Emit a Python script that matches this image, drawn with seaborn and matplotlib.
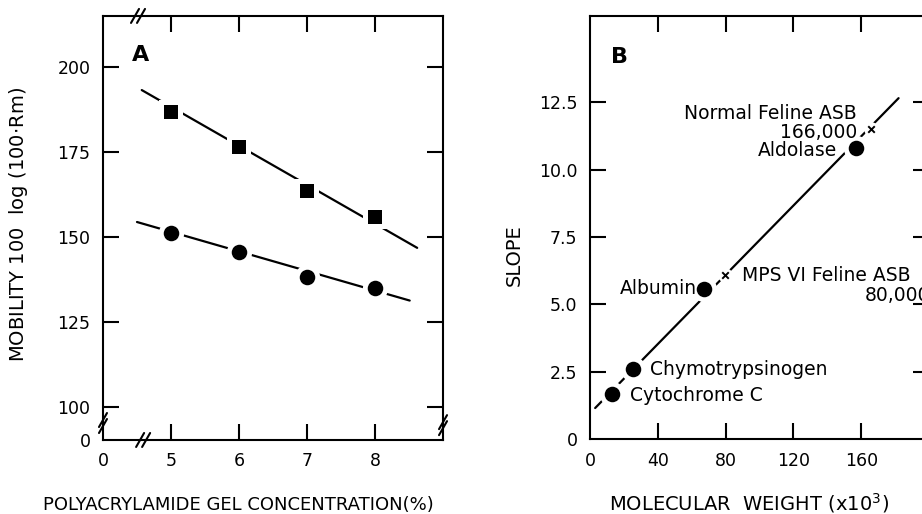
import numpy as np
import pandas as pd
import seaborn as sns
import matplotlib.pyplot as plt

sns.set_style("ticks")
plt.rcParams['font.family'] = ['DejaVu Sans']
plt.rcParams.update({'text.color': 'black', 'axes.labelcolor': 'black',
                     'axes.edgecolor': 'black', 'xtick.color': 'black',
                     'ytick.color': 'black'})

# panel A: mobility vs gel concentration
gel_conc = [5, 6, 7, 8]
mob_square = [186.8, 176.5, 163.5, 155.9]
mob_circle = [151.2, 145.6, 138.2, 135.0]
fit_sq_x = [4.57, 8.62]
fit_sq_y = [193.2, 146.8]
fit_ci_x = [4.5, 8.51]
fit_ci_y = [154.4, 131.3]
a_xticks = [4, 5, 6, 7, 8]
a_xlabels = ['0', '5', '6', '7', '8']
a_yticks = [90.3, 100, 125, 150, 175, 200]
a_ylabels = ['0', '100', '125', '150', '175', '200']

# panel B: slope vs molecular weight
std_names = ['Cytochrome C', 'Chymotrypsinogen', 'Albumin', 'Aldolase']
std_mw = [13, 25.4, 67.4, 157]
std_slope = [1.67, 2.58, 5.56, 10.8]
asb_mw = [79.8, 165.8]
asb_slope = [6.08, 11.52]
fit_b_x = [3, 182]
fit_b_y = [1.15, 12.65]
b_xticks = [0, 40, 80, 120, 160, 200]
b_xlabels = ['0', '40', '80', '120', '160', '']
b_yticks = [0, 2.5, 5, 7.5, 10, 12.5]
b_ylabels = ['0', '2.5', '5.0', '7.5', '10.0', '12.5']

dfA = pd.DataFrame({'conc': gel_conc, 'sq': mob_square, 'ci': mob_circle})
dfB = pd.DataFrame({'mw': std_mw, 'slope': std_slope, 'name': std_names})

fig = plt.figure(figsize=(9.22, 5.14), dpi=100)
axA = fig.add_axes([0.1117, 0.144, 0.3688, 0.825])
axB = fig.add_axes([0.640, 0.1459, 0.3677, 0.823])

# --- A ---
sns.lineplot(x=fit_sq_x, y=fit_sq_y, ax=axA, color='black', lw=1.6)
sns.lineplot(x=fit_ci_x, y=fit_ci_y, ax=axA, color='black', lw=1.6)
sns.scatterplot(data=dfA, x='conc', y='sq', ax=axA, marker='s', s=300, color='white', linewidth=0, zorder=3)
sns.scatterplot(data=dfA, x='conc', y='sq', ax=axA, marker='s', s=100, color='black', linewidth=0, zorder=4)
sns.scatterplot(data=dfA, x='conc', y='ci', ax=axA, marker='o', s=330, color='white', linewidth=0, zorder=3)
sns.scatterplot(data=dfA, x='conc', y='ci', ax=axA, marker='o', s=125, color='black', linewidth=0, zorder=4)

axA.set_xlim(4, 9)
axA.set_ylim(90.3, 215)
axA.set_xticks(a_xticks, a_xlabels)
axA.set_yticks(a_yticks, a_ylabels)
axA.text(0.109, 0.908, 'A', transform=axA.transAxes, fontsize=16, fontweight='bold',
         ha='center', va='center')
axA.set_xlabel('POLYACRYLAMIDE GEL CONCENTRATION(%)', fontsize=13)
axA.xaxis.set_label_coords(0.397, -0.132)
axA.set_ylabel('MOBILITY 100  log (100$\\cdot$Rm)', fontsize=14)
axA.yaxis.set_label_coords(-0.215, 0.507)


def brk(ax, cx, cy, vertical=False):
    # two short slanted strokes marking an axis break (axes coords)
    bb = ax.get_position()
    pw = 1 / (bb.width * 922)
    ph = 1 / (bb.height * 514)
    for k in (-1, 1):
        ox = 0 if vertical else k * 3 * pw
        oy = k * 3 * ph if vertical else 0
        ax.plot([cx + ox - 4 * pw, cx + ox + 4 * pw], [cy + oy - 7 * ph, cy + oy + 7 * ph],
                transform=ax.transAxes, color='black', lw=1.5, clip_on=False, zorder=5)


brk(axA, 0.103, 1.0)
brk(axA, 0.118, 0.0)
brk(axA, 0.0, 0.04, vertical=True)
brk(axA, 1.0, 0.035, vertical=True)

# --- B ---
sns.lineplot(x=fit_b_x, y=fit_b_y, ax=axB, color='black', lw=1.6)
sns.scatterplot(data=dfB, x='mw', y='slope', ax=axB, marker='o', s=330, color='white', linewidth=0, zorder=3)
sns.scatterplot(data=dfB, x='mw', y='slope', ax=axB, marker='o', s=125, color='black', linewidth=0, zorder=4)
sns.scatterplot(x=asb_mw, y=asb_slope, ax=axB, marker='o', s=110, color='white', linewidth=0, zorder=3)
sns.scatterplot(x=asb_mw, y=asb_slope, ax=axB, marker='x', s=22, color='black', linewidth=1.4, zorder=4)

axB.set_xlim(0, 200)
axB.set_ylim(0, 15.7)
axB.set_xticks(b_xticks, b_xlabels)
axB.set_yticks(b_yticks, b_ylabels)
axB.text(0.088, 0.903, 'B', transform=axB.transAxes, fontsize=16, fontweight='bold',
         ha='center', va='center')
axB.set_xlabel('MOLECULAR  WEIGHT (x10$^{3}$)', fontsize=14)
axB.xaxis.set_label_coords(0.469, -0.122)
axB.set_ylabel('SLOPE', fontsize=14)
axB.yaxis.set_label_coords(-0.195, 0.435)

fs = 13.5
axB.text(157.2, 12.09, 'Normal Feline ASB', ha='right', va='center', fontsize=fs)
axB.text(157.8, 11.39, '166,000', ha='right', va='center', fontsize=fs)
axB.text(145.7, 10.72, 'Aldolase', ha='right', va='center', fontsize=fs)
axB.text(63.2, 5.59, 'Albumin', ha='right', va='center', fontsize=fs)
axB.text(89.6, 6.05, 'MPS VI Feline ASB', ha='left', va='center', fontsize=fs)
axB.text(161.9, 5.34, '80,000', ha='left', va='center', fontsize=fs)
axB.text(35.5, 2.59, 'Chymotrypsinogen', ha='left', va='center', fontsize=fs)
axB.text(23.6, 1.63, 'Cytochrome C', ha='left', va='center', fontsize=fs)

for ax in (axA, axB):
    for sp in ax.spines.values():
        sp.set_visible(True)
        sp.set_linewidth(1.5)
    ax.tick_params(direction='in', top=True, right=True, length=11.5, width=1.5,
                   labelsize=12.5, colors='black')
    ax.tick_params(axis='x', pad=9)
    ax.tick_params(axis='y', pad=9)
    for t in (ax.xaxis.get_major_ticks()[0], ax.yaxis.get_major_ticks()[0]):
        t.tick1line.set_visible(False)
        t.tick2line.set_visible(False)

fig.savefig('out.png', dpi=100)
